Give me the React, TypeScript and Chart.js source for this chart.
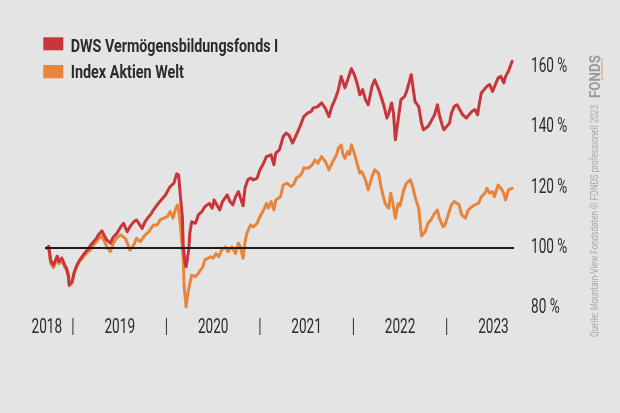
import React, { useEffect, useRef } from "react";
import { Chart, registerables } from "chart.js";

Chart.register(...registerables);

// ---- Data (decimal years, percent) ----
const dwsDates = [
  2018.72, 2018.74, 2018.76, 2018.79, 2018.83, 2018.85, 2018.88, 2018.91, 2018.93, 2018.95,
  2018.96, 2018.99, 2019.01, 2019.04, 2019.07, 2019.11, 2019.15, 2019.19, 2019.22, 2019.25,
  2019.27, 2019.31, 2019.34, 2019.36, 2019.40, 2019.43, 2019.47, 2019.51, 2019.54, 2019.58,
  2019.61, 2019.65, 2019.68, 2019.74, 2019.77, 2019.81, 2019.84, 2019.86, 2019.90, 2019.93,
  2019.99, 2020.02, 2020.04, 2020.08, 2020.09, 2020.11, 2020.13, 2020.15, 2020.17, 2020.18,
  2020.20, 2020.21, 2020.22, 2020.24, 2020.25, 2020.27, 2020.31, 2020.33, 2020.34, 2020.38,
  2020.41, 2020.46, 2020.49, 2020.51, 2020.57, 2020.60, 2020.65, 2020.68, 2020.71, 2020.74,
  2020.77, 2020.82, 2020.84, 2020.87, 2020.90, 2020.93, 2020.97, 2021.00, 2021.04, 2021.07,
  2021.12, 2021.15, 2021.17, 2021.21, 2021.25, 2021.28, 2021.31, 2021.35, 2021.39, 2021.43,
  2021.47, 2021.51, 2021.55, 2021.57, 2021.62, 2021.66, 2021.70, 2021.74, 2021.77, 2021.81,
  2021.84, 2021.87, 2021.91, 2021.94, 2021.98, 2022.01, 2022.04, 2022.07, 2022.10, 2022.13,
  2022.16, 2022.20, 2022.23, 2022.28, 2022.33, 2022.36, 2022.38, 2022.41, 2022.43, 2022.45,
  2022.47, 2022.51, 2022.55, 2022.57, 2022.62, 2022.66, 2022.70, 2022.73, 2022.75, 2022.80,
  2022.83, 2022.87, 2022.90, 2022.92, 2022.95, 2022.97, 2023.03, 2023.05, 2023.08, 2023.11,
  2023.17, 2023.21, 2023.27, 2023.30, 2023.33, 2023.35, 2023.37, 2023.43, 2023.46, 2023.49,
  2023.55, 2023.58, 2023.61, 2023.63, 2023.66, 2023.70,
];
const dwsValues = [
  100.0, 100.6, 96.0, 94.3, 97.3, 95.5, 96.7, 94.4, 93.4, 91.0,
  87.7, 88.8, 91.7, 94.3, 96.0, 97.7, 99.3, 101.0, 102.1, 103.2,
  104.3, 105.7, 103.8, 102.7, 101.6, 103.6, 104.9, 107.0, 108.2, 105.4,
  107.1, 108.7, 109.3, 106.5, 108.7, 110.4, 111.5, 112.6, 114.3, 115.4,
  117.6, 119.3, 120.4, 121.5, 122.6, 124.6, 124.3, 117.0, 110.4, 100.4,
  94.9, 93.8, 95.5, 99.9, 104.9, 108.7, 108.2, 109.9, 111.0, 112.1,
  113.7, 114.8, 113.2, 115.9, 112.6, 115.4, 117.6, 115.4, 114.3, 117.0,
  118.7, 114.0, 119.8, 122.6, 123.2, 122.6, 123.2, 125.9, 128.1, 130.3,
  130.9, 127.6, 131.5, 132.6, 137.0, 138.1, 137.5, 134.8, 137.5, 140.3,
  143.6, 144.7, 145.3, 146.4, 146.9, 148.1, 146.4, 143.6, 146.9, 149.7,
  152.5, 156.9, 153.1, 155.8, 159.5, 157.5, 154.7, 150.8, 152.5, 149.2,
  147.5, 153.6, 155.8, 151.9, 146.9, 143.1, 144.7, 148.1, 144.7, 135.9,
  140.3, 149.2, 150.3, 151.9, 157.5, 148.6, 146.9, 141.4, 139.2, 140.3,
  141.9, 144.2, 147.5, 144.2, 140.9, 139.2, 141.4, 144.7, 146.9, 147.5,
  144.2, 143.1, 145.3, 145.9, 144.2, 148.1, 151.4, 153.6, 154.2, 151.9,
  156.4, 156.9, 154.7, 156.9, 158.6, 161.9,
];

const indexDates = [
  2018.72, 2018.74, 2018.76, 2018.79, 2018.83, 2018.85, 2018.88, 2018.91, 2018.93, 2018.95,
  2018.96, 2018.99, 2019.01, 2019.04, 2019.07, 2019.11, 2019.15, 2019.19, 2019.22, 2019.25,
  2019.27, 2019.31, 2019.34, 2019.36, 2019.40, 2019.43, 2019.47, 2019.51, 2019.56, 2019.61,
  2019.65, 2019.68, 2019.72, 2019.77, 2019.81, 2019.86, 2019.90, 2019.93, 2019.97, 2020.01,
  2020.04, 2020.07, 2020.10, 2020.12, 2020.14, 2020.16, 2020.18, 2020.19, 2020.21, 2020.23,
  2020.25, 2020.27, 2020.31, 2020.34, 2020.39, 2020.41, 2020.47, 2020.50, 2020.53, 2020.56,
  2020.59, 2020.63, 2020.66, 2020.70, 2020.74, 2020.77, 2020.79, 2020.82, 2020.84, 2020.86,
  2020.90, 2020.93, 2020.97, 2021.00, 2021.04, 2021.07, 2021.09, 2021.12, 2021.15, 2021.17,
  2021.22, 2021.25, 2021.29, 2021.33, 2021.36, 2021.39, 2021.42, 2021.45, 2021.47, 2021.52,
  2021.56, 2021.59, 2021.62, 2021.66, 2021.70, 2021.74, 2021.78, 2021.82, 2021.84, 2021.87,
  2021.89, 2021.91, 2021.94, 2021.96, 2021.98, 2022.01, 2022.04, 2022.07, 2022.09, 2022.13,
  2022.16, 2022.20, 2022.23, 2022.27, 2022.30, 2022.34, 2022.38, 2022.40, 2022.42, 2022.45,
  2022.48, 2022.50, 2022.54, 2022.57, 2022.61, 2022.63, 2022.66, 2022.70, 2022.73, 2022.77,
  2022.80, 2022.83, 2022.87, 2022.90, 2022.92, 2022.96, 2022.98, 2023.02, 2023.05, 2023.08,
  2023.11, 2023.13, 2023.16, 2023.20, 2023.23, 2023.27, 2023.30, 2023.34, 2023.37, 2023.41,
  2023.43, 2023.46, 2023.49, 2023.51, 2023.55, 2023.58, 2023.61, 2023.63, 2023.66, 2023.70,
];
const indexValues = [
  100.0, 100.3, 95.0, 93.5, 96.5, 94.8, 96.0, 93.8, 92.8, 90.5,
  87.5, 88.5, 91.3, 93.8, 95.5, 97.0, 98.5, 99.5, 101.0, 102.0,
  103.0, 104.0, 102.0, 100.5, 98.8, 101.5, 103.5, 104.3, 103.2, 99.3,
  101.0, 103.2, 102.1, 104.3, 105.4, 107.6, 107.6, 109.3, 109.9, 110.4,
  112.1, 109.9, 113.2, 114.3, 110.4, 103.8, 96.0, 87.1, 80.5, 85.0,
  88.3, 91.0, 90.5, 91.6, 93.8, 96.0, 97.1, 96.6, 98.2, 97.1,
  99.3, 100.4, 98.8, 100.4, 98.2, 101.6, 100.5, 96.6, 101.6, 104.9,
  107.6, 107.0, 108.2, 110.4, 112.6, 114.8, 113.2, 115.4, 112.6, 115.9,
  117.0, 120.9, 121.5, 120.4, 121.0, 123.2, 123.7, 124.8, 126.5, 126.5,
  127.6, 129.2, 128.1, 130.3, 128.7, 125.9, 128.7, 130.9, 133.1, 134.2,
  130.9, 129.8, 132.0, 131.0, 134.2, 131.5, 128.1, 124.8, 125.4, 122.6,
  119.3, 123.7, 125.9, 124.8, 119.8, 114.8, 113.2, 118.2, 115.5, 109.9,
  114.8, 114.0, 119.3, 121.5, 122.6, 121.0, 117.0, 113.2, 104.0, 105.5,
  108.2, 109.3, 111.5, 112.6, 109.9, 107.1, 107.5, 111.5, 114.3, 115.4,
  114.8, 114.5, 111.0, 109.9, 112.6, 113.7, 114.3, 114.8, 117.0, 118.2,
  119.8, 118.2, 118.7, 117.0, 120.9, 119.8, 118.2, 115.9, 119.3, 119.8,
];

const baselineDates = [2018.7, 2023.72];
const baselineValues = [100, 100];

const yTickValues = [80, 100, 120, 140, 160];
const xTickValues = [2018.72, 2019, 2019.5, 2020, 2020.5, 2021, 2021.5, 2022, 2022.5, 2023, 2023.5];
const xTickLabels = ["2018", "|", "2019", "|", "2020", "|", "2021", "|", "2022", "|", "2023"];

const seriesNames = ["DWS Vermögensbildungsfonds I", "Index Aktien Welt"];
const sourceText = "Quelle: Mountain-View Fondsdaten   ©  FONDS professionell 2023";
const logoText = "FONDS";
const logoSubText = "professionell";

// ---- Styles ----
const RED = "#c8353a";
const ORANGE = "#e8853d";
const BG = "#e4e4e4";
const TEXT = "#2b2b2b";
const FONT = "Roboto, 'Liberation Sans', sans-serif";
const LABEL_CONDENSE = 0.68;

const zip = (xs: number[], ys: number[]) => xs.map((x, i) => ({ x, y: ys[i] }));

// Condenses axis tick labels horizontally (the original uses a condensed typeface)
const condenseLabels = {
  id: "condenseLabels",
  beforeDraw(chart: any) {
    const ctx = chart.ctx;
    ["x", "y"].forEach((id) => {
      const scale = chart.scales[id];
      if (!scale) return;
      const items = scale.getLabelItems();
      items.forEach((it: any) => {
        ctx.save();
        ctx.font = it.font.string;
        const w = ctx.measureText(String(it.label)).width;
        ctx.restore();
        it.options.maxWidth = w * LABEL_CONDENSE;
      });
    });
  },
};

export default function App() {
  const canvasRef = useRef<HTMLCanvasElement | null>(null);

  useEffect(() => {
    if (!canvasRef.current) return;
    const chart = new Chart(canvasRef.current, {
      type: "line",
      data: {
        datasets: [
          {
            label: "Basis",
            data: zip(baselineDates, baselineValues),
            borderColor: "#1c1c1c",
            borderWidth: 2,
            pointRadius: 0,
          },
          {
            label: seriesNames[0],
            data: zip(dwsDates, dwsValues),
            borderColor: RED,
            borderWidth: 3,
            pointRadius: 0,
            tension: 0,
            borderJoinStyle: "round",
            borderCapStyle: "round",
          },
          {
            label: seriesNames[1],
            data: zip(indexDates, indexValues),
            borderColor: ORANGE,
            borderWidth: 3,
            pointRadius: 0,
            tension: 0,
            borderJoinStyle: "round",
            borderCapStyle: "round",
          },
        ],
      },
      options: {
        responsive: false,
        animation: false,
        events: [],
        layout: { padding: { left: 45, right: 36, top: 58, bottom: 58.6 } },
        plugins: { legend: { display: false }, tooltip: { enabled: false } },
        scales: {
          x: {
            type: "linear",
            min: 2018.7,
            max: 2023.72,
            grid: { display: false, drawTicks: false },
            border: { display: false },
            afterBuildTicks: (s: any) => {
              s.ticks = xTickValues.map((v) => ({ value: v }));
            },
            afterFit: (s: any) => {
              s.height = 40;
            },
            ticks: {
              autoSkip: false,
              maxRotation: 0,
              minRotation: 0,
              padding: 2,
              color: TEXT,
              font: { family: FONT, size: 20 },
              callback: (_v: any, i: number) => xTickLabels[i],
            },
          },
          y: {
            position: "right",
            min: 78,
            max: 163,
            grid: { display: false, drawTicks: false },
            border: { display: false },
            afterBuildTicks: (s: any) => {
              s.ticks = yTickValues.map((v) => ({ value: v }));
            },
            afterFit: (s: any) => {
              s.width = 70;
            },
            ticks: {
              padding: 17,
              color: TEXT,
              font: { family: FONT, size: 20 },
              callback: (v: any) => `${v} %`,
            },
          },
        },
      },
      plugins: [condenseLabels],
    } as any);
    return () => chart.destroy();
  }, []);

  return (
    <div
      style={{
        position: "fixed",
        left: 0,
        top: 0,
        width: 620,
        height: 413,
        background: BG,
        overflow: "hidden",
      }}
    >
      <canvas ref={canvasRef} width={620} height={413} style={{ display: "block" }} />
      <svg
        width={620}
        height={413}
        style={{ position: "absolute", left: 0, top: 0, pointerEvents: "none" }}
      >
        <rect x={43.3} y={37.3} width={20} height={13} fill={RED} />
        <text
          x={70.7}
          y={51.5}
          fontFamily={FONT}
          fontWeight="bold"
          fontSize={18.5}
          fill={TEXT}
          textLength={207.6}
          lengthAdjust="spacingAndGlyphs"
        >
          {seriesNames[0]}
        </text>
        <rect x={43.3} y={65} width={20} height={13.3} fill={ORANGE} />
        <text
          x={70.7}
          y={78.2}
          fontFamily={FONT}
          fontWeight="bold"
          fontSize={18.5}
          fill={TEXT}
          textLength={113.3}
          lengthAdjust="spacingAndGlyphs"
        >
          {seriesNames[1]}
        </text>
        <text
          transform="translate(597.5,337) rotate(-90)"
          fontFamily={FONT}
          fontSize={11.5}
          fill="#a9a9a9"
          textLength={232}
          lengthAdjust="spacingAndGlyphs"
        >
          {sourceText}
        </text>
        <text
          transform="translate(600,98) rotate(-90)"
          fontFamily={FONT}
          fontWeight="bold"
          fontSize={15}
          fill="#9b9b9b"
          textLength={43}
          lengthAdjust="spacingAndGlyphs"
        >
          {logoText}
        </text>
        <text
          transform="translate(603,80) rotate(-90)"
          fontFamily={FONT}
          fontSize={4}
          fill={ORANGE}
          textLength={22}
          lengthAdjust="spacingAndGlyphs"
        >
          {logoSubText}
        </text>
      </svg>
    </div>
  );
}
